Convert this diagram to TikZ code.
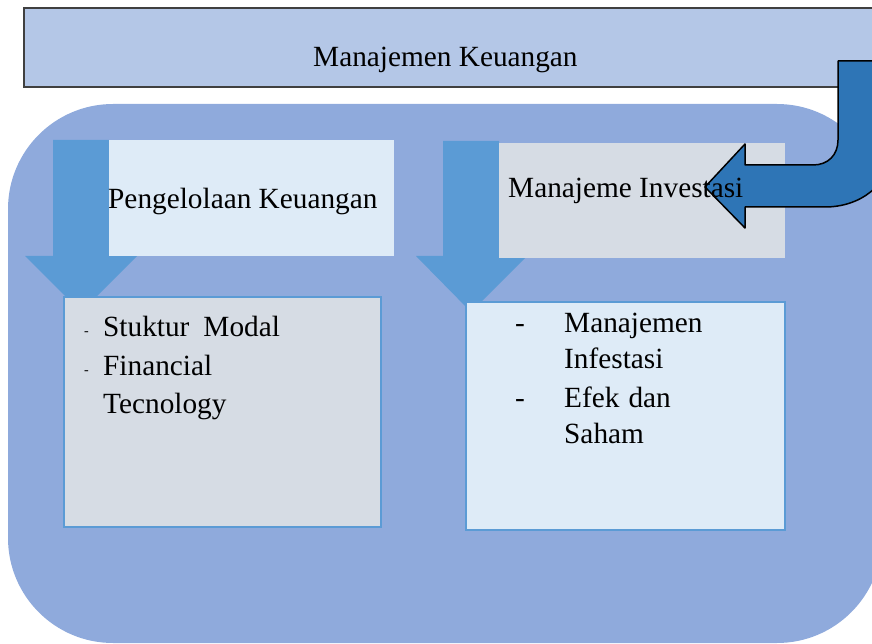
\documentclass[tikz,border=0pt]{standalone}
\usepackage{fontspec}
\setmainfont{Liberation Serif}
\definecolor{titlefill}{HTML}{B4C7E7}
\definecolor{bigfill}{HTML}{8FAADC}
\definecolor{arrowfill}{HTML}{5B9BD5}
\definecolor{lightfill}{HTML}{DEEBF7}
\definecolor{grayfill}{HTML}{D6DCE4}
\definecolor{turnfill}{HTML}{2E75B6}
\tikzset{
  txt/.style={inner sep=0pt, anchor=base west, font=\fontsize{29.3}{38.5}\selectfont},
  smalldash/.style={inner sep=0pt, anchor=base west, font=\fontsize{14}{14}\selectfont},
  listbox/.style={draw=arrowfill, line width=1.6pt},
  downarrow/.style={fill=arrowfill},
  turnarrow/.style={fill=turnfill, draw=black, line width=1.5pt, line join=round},
}
\begin{document}
\begin{tikzpicture}[x=1pt,y=-1pt]
\useasboundingbox (0,0) rectangle (872,644);
\clip (0,0) rectangle (872,644);
% title bar
\fill[titlefill] (24,8) rectangle (890,87);
\draw[line width=1.2pt, draw=black!75] (890,8) -- (24,8) -- (24,87) -- (890,87);
\node[txt] (title) at (313,66.7) {Manajemen Keuangan};
% big rounded panel
\fill[bigfill, rounded corners=105pt] (8,104) rectangle (882,643);
% left down arrow
\fill[downarrow] (53,140) -- (109,140) -- (109,256) -- (137,256) -- (81,312) -- (25,256) -- (53,256) -- cycle;
% right down arrow
\fill[downarrow] (443,141) -- (499,141) -- (499,256) -- (527,256) -- (471,312) -- (416,256) -- (443,256) -- cycle;
% header boxes
\fill[lightfill] (109,140) rectangle (394,256);
\fill[grayfill] (499,143) rectangle (785,258);
% content boxes
\node[listbox, fill=grayfill, minimum width=317pt, minimum height=230pt, anchor=north west] (leftbox) at (63,296) {};
\node[listbox, fill=lightfill, minimum width=319pt, minimum height=228pt, anchor=north west] (rightbox) at (465,301) {};
% curved arrow
\draw[turnarrow] (838,61) -- (890,61) -- (890,152)
  .. controls (890,185) and (860,207) .. (825,207)
  -- (745,207) -- (745,228) -- (705,187) -- (745,144) -- (745,165) -- (813,165)
  .. controls (828,165) and (838,155) .. (838,140) -- cycle;
% header texts
\node[txt] (pktext) at (108,209) {Pengelolaan Keuangan};
\node[txt] (mitext) at (508,198) {Manajeme Investasi};
% left list
\node[smalldash] (ld1) at (84,335.5) {-};
\node[smalldash] (ld2) at (84,374.5) {-};
\node[txt] (l1) at (103,336) {Stuktur\hspace{14pt}Modal};
\node[txt] (l2) at (103,375) {Financial};
\node[txt] (l3) at (103,413) {Tecnology};
% right list
\node[txt] (rd1) at (515,332) {-};
\node[txt] (rd2) at (515,407) {-};
\node[txt] (r1) at (564,332) {Manajemen};
\node[txt] (r2) at (564,368) {Infestasi};
\node[txt] (r3) at (564,407) {Efek\hspace{9pt}dan};
\node[txt] (r4) at (564,443) {Saham};
\end{tikzpicture}
\end{document}
